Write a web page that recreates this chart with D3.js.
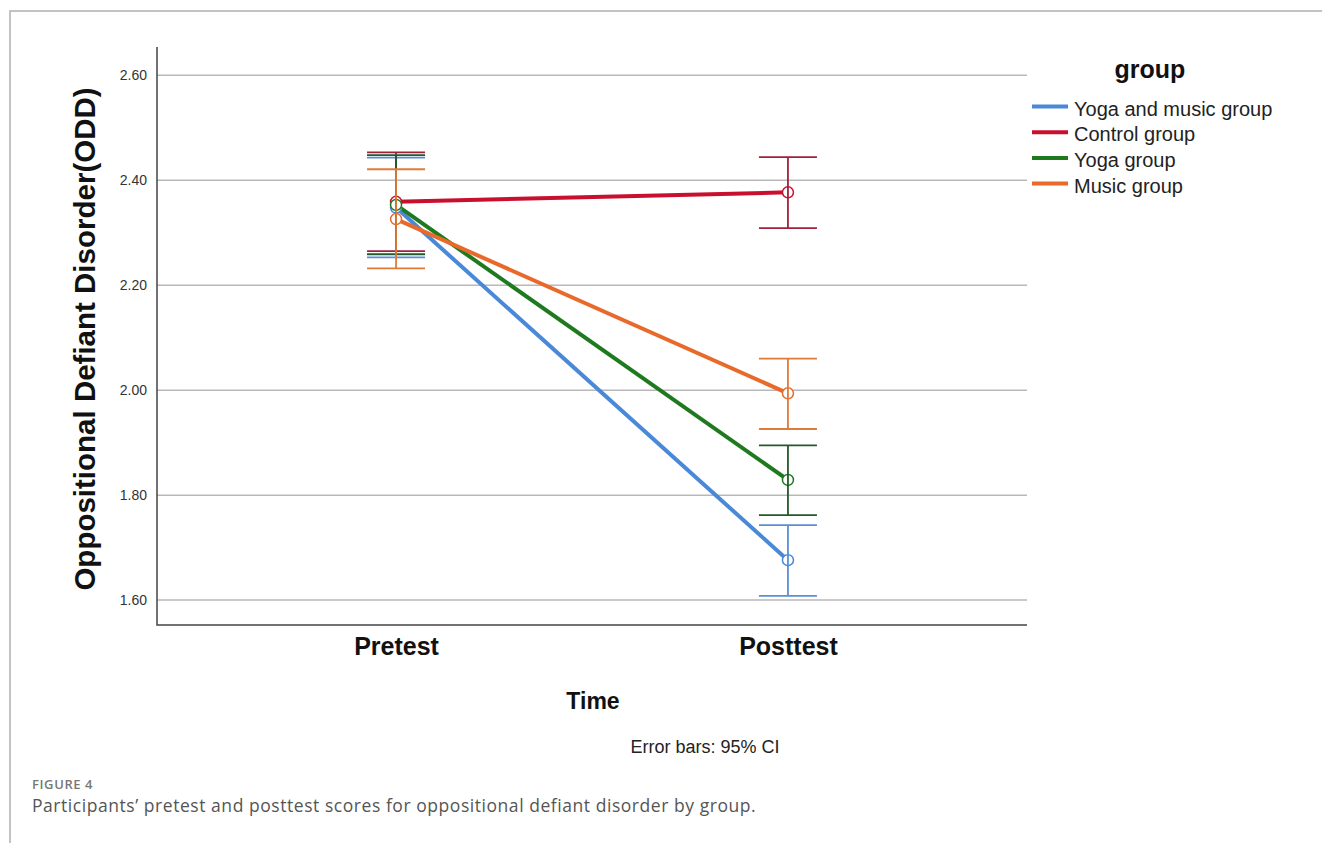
<!DOCTYPE html>
<html>
<head>
<meta charset="utf-8">
<script src="https://cdn.jsdelivr.net/npm/d3@7"></script>
<style>
  html, body { margin: 0; padding: 0; background: #fff; }
  svg { display: block; }
</style>
</head>
<body>
<svg id="chart" width="1322" height="843"></svg>
<script>
// Time points on the x axis
const times = ["Pretest", "Posttest"];

// Groups in legend order
const groups = ["Yoga and music group", "Control group", "Yoga group", "Music group"];
const lineColors = ["#4a88d8", "#c8102e", "#1f7a1f", "#e8692a"];
const barColors  = ["#5a8fd6", "#a0213c", "#24592a", "#e07a3a"];

// Group means at each time point
const yogaMusicMean = [2.348, 1.676];
const controlMean   = [2.359, 2.377];
const yogaMean      = [2.353, 1.829];
const musicMean     = [2.326, 1.994];

// 95% CI lower and upper bounds
const yogaMusicLow  = [2.253, 1.608];
const yogaMusicHigh = [2.443, 1.743];
const controlLow    = [2.265, 2.309];
const controlHigh   = [2.453, 2.444];
const yogaLow       = [2.259, 1.762];
const yogaHigh      = [2.448, 1.895];
const musicLow      = [2.232, 1.926];
const musicHigh     = [2.421, 2.060];

// Y axis ticks
const yTicks = [1.60, 1.80, 2.00, 2.20, 2.40, 2.60];

const means = [yogaMusicMean, controlMean, yogaMean, musicMean];
const lows  = [yogaMusicLow, controlLow, yogaLow, musicLow];
const highs = [yogaMusicHigh, controlHigh, yogaHigh, musicHigh];

const series = groups.map((g, i) => ({
  name: g,
  color: lineColors[i],
  barColor: barColors[i],
  points: times.map((t, j) => ({ t, m: means[i][j], lo: lows[i][j], hi: highs[i][j] }))
}));

const svg = d3.select("#chart");
const plot = { left: 157, right: 1027, top: 47, bottom: 625 };
const sans = "Liberation Sans, Arial, sans-serif";

const x = d3.scalePoint().domain(times).range([plot.left, plot.right]).padding(0.61);
const y = d3.scaleLinear().domain([1.5525, 2.654]).range([plot.bottom, plot.top]);

// Outer figure frame
svg.append("path")
  .attr("d", `M10,843 L10,11 L1322,11`)
  .attr("fill", "none")
  .attr("stroke", "#b0b0b0")
  .attr("stroke-width", 1.5);

// Gridlines
svg.append("g")
  .selectAll("line")
  .data(yTicks)
  .join("line")
  .attr("x1", plot.left).attr("x2", plot.right)
  .attr("y1", d => y(d)).attr("y2", d => y(d))
  .attr("stroke", "#b8b8b8")
  .attr("stroke-width", 1.5);

// Y axis
const yAxis = svg.append("g")
  .attr("transform", `translate(${plot.left},0)`)
  .call(d3.axisLeft(y).tickValues(yTicks).tickFormat(d3.format(".2f")).tickSize(0).tickPadding(10));
yAxis.select(".domain").remove();
yAxis.selectAll("text")
  .attr("font-family", sans)
  .attr("font-size", 14)
  .attr("fill", "#333");

// X axis
const xAxis = svg.append("g")
  .attr("transform", `translate(0,${plot.bottom})`)
  .call(d3.axisBottom(x).tickSize(0).tickPadding(12));
xAxis.select(".domain").remove();
xAxis.selectAll("text")
  .attr("font-family", sans)
  .attr("font-size", 25)
  .attr("font-weight", "bold")
  .attr("fill", "#111");

// Axis lines
svg.append("path")
  .attr("d", `M${plot.left},${plot.top} L${plot.left},${plot.bottom} L${plot.right},${plot.bottom}`)
  .attr("fill", "none")
  .attr("stroke", "#444")
  .attr("stroke-width", 1.5);

// Axis titles
svg.append("text")
  .attr("transform", `translate(95,339) rotate(-90)`)
  .attr("text-anchor", "middle")
  .attr("font-family", sans)
  .attr("font-size", 29.5)
  .attr("font-weight", "bold")
  .attr("fill", "#111")
  .text("Oppositional Defiant Disorder(ODD)");

svg.append("text")
  .attr("x", 593).attr("y", 709)
  .attr("text-anchor", "middle")
  .attr("font-family", sans)
  .attr("font-size", 23)
  .attr("font-weight", "bold")
  .attr("fill", "#111")
  .text("Time");

svg.append("text")
  .attr("x", 705).attr("y", 753)
  .attr("text-anchor", "middle")
  .attr("font-family", sans)
  .attr("font-size", 18)
  .attr("fill", "#222")
  .text("Error bars: 95% CI");

// Mean lines
const line = d3.line().x(d => x(d.t)).y(d => y(d.m));
svg.append("g")
  .selectAll("path")
  .data(series)
  .join("path")
  .attr("d", d => line(d.points))
  .attr("fill", "none")
  .attr("stroke", d => d.color)
  .attr("stroke-width", 4);

// Mean markers
series.forEach(s => {
  svg.append("g")
    .selectAll("circle")
    .data(s.points)
    .join("circle")
    .attr("cx", d => x(d.t))
    .attr("cy", d => y(d.m))
    .attr("r", 5.5)
    .attr("fill", "#fff")
    .attr("stroke", s.color)
    .attr("stroke-width", 1.5);
});

// Error bars
const capHalf = 29;
series.forEach(s => {
  const g = svg.append("g").attr("stroke", s.barColor).attr("stroke-width", 1.8);
  s.points.forEach(p => {
    const cx = x(p.t);
    g.append("line").attr("x1", cx).attr("x2", cx).attr("y1", y(p.lo)).attr("y2", y(p.hi));
    g.append("line").attr("x1", cx - capHalf).attr("x2", cx + capHalf).attr("y1", y(p.lo)).attr("y2", y(p.lo));
    g.append("line").attr("x1", cx - capHalf).attr("x2", cx + capHalf).attr("y1", y(p.hi)).attr("y2", y(p.hi));
  });
});

// Legend
const legend = svg.append("g").attr("transform", "translate(1032,0)");
legend.append("text")
  .attr("x", 118).attr("y", 78)
  .attr("text-anchor", "middle")
  .attr("font-family", sans)
  .attr("font-size", 25)
  .attr("font-weight", "bold")
  .attr("fill", "#111")
  .text("group");
const items = legend.selectAll("g.item")
  .data(series)
  .join("g")
  .attr("class", "item")
  .attr("transform", (d, i) => `translate(0,${106.5 + i * 25.7})`);
items.append("line")
  .attr("x1", 0).attr("x2", 36)
  .attr("stroke", d => d.color)
  .attr("stroke-width", 4);
items.append("text")
  .attr("x", 42).attr("y", 9)
  .attr("font-family", sans)
  .attr("font-size", 20)
  .attr("fill", "#222")
  .text(d => d.name);

// Caption
svg.append("text")
  .attr("x", 32).attr("y", 789)
  .attr("font-family", "Open Sans, Noto Sans, sans-serif")
  .attr("font-size", 13)
  .attr("font-weight", 600)
  .attr("letter-spacing", 0.6)
  .attr("fill", "#777")
  .text("FIGURE 4");
svg.append("text")
  .attr("x", 32).attr("y", 812)
  .attr("font-family", "Open Sans, Noto Sans, sans-serif")
  .attr("font-size", 17.5)
  .attr("letter-spacing", 0.55)
  .attr("fill", "#555")
  .text("Participants’ pretest and posttest scores for oppositional defiant disorder by group.");
</script>
</body>
</html>
